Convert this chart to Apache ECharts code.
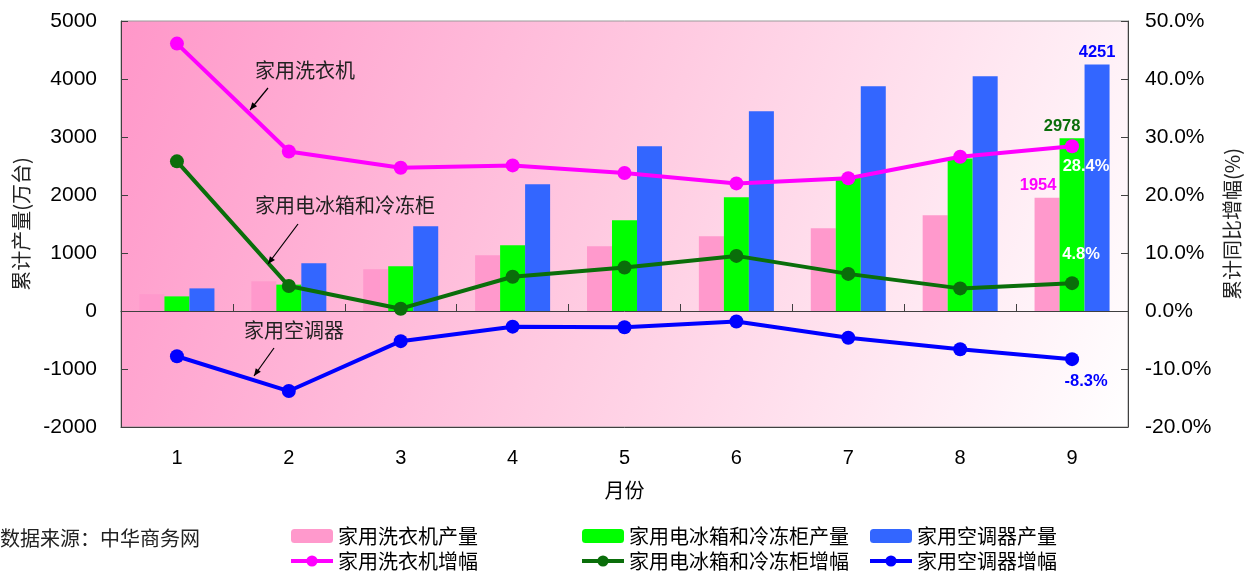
<!DOCTYPE html>
<html>
<head>
<meta charset="utf-8">
<script src="https://cdn.jsdelivr.net/npm/echarts@6/dist/echarts.min.js"></script>
<style>html,body{margin:0;padding:0;background:#fff}#c{width:1244px;height:571px}</style>
</head>
<body>
<div id="c"></div>
<script>
var months = ['1','2','3','4','5','6','7','8','9'];
var washerOutput = [290, 512, 719, 960, 1115, 1288, 1426, 1650, 1954];
var fridgeOutput = [252, 455, 770, 1132, 1564, 1960, 2300, 2628, 2978];
var acOutput = [390, 822, 1460, 2184, 2840, 3443, 3874, 4046, 4251];
var washerGrowth = [46.1, 27.5, 24.7, 25.1, 23.8, 22.0, 22.9, 26.6, 28.4];
var fridgeGrowth = [25.8, 4.3, 0.4, 5.9, 7.5, 9.5, 6.4, 3.9, 4.8];
var acGrowth = [-7.8, -13.8, -5.2, -2.7, -2.8, -1.8, -4.6, -6.6, -8.3];

var FONT = "'Liberation Sans', 'Noto Sans CJK SC', sans-serif";
var CJK = "'Noto Sans CJK SC', sans-serif";

function lastLabel(arr, label) {
  return arr.map(function (v, i) {
    return i === arr.length - 1 ? { value: v, label: label } : v;
  });
}
function lbl(color, pos, offset, fmt) {
  return { show: true, position: pos, offset: offset || [0, 0], color: color,
    fontWeight: 'bold', fontSize: 16.5, fontFamily: FONT, distance: 4,
    formatter: fmt || '{c}' };
}
function arrow(x1, y1, x2, y2) {
  var a = Math.atan2(y2 - y1, x2 - x1), L = 8, w = 0.4;
  return [
    { type: 'line', z: 100, shape: { x1: x1, y1: y1, x2: x2, y2: y2 }, style: { stroke: '#000', lineWidth: 1.2 } },
    { type: 'polygon', z: 100, shape: { points: [[x2, y2],
      [x2 - L * Math.cos(a - w), y2 - L * Math.sin(a - w)],
      [x2 - L * Math.cos(a + w), y2 - L * Math.sin(a + w)]] }, style: { fill: '#000' } }
  ];
}
function note(text, x, y) {
  return { type: 'text', z: 100, left: x, top: y, style: { text: text, fontSize: 20, fontFamily: CJK, fill: '#222' } };
}

var chart = echarts.init(document.getElementById('c'));
var pctFmt = function (p) { return p.value.toFixed(1) + '%'; };

var legendCommon = {
  orient: 'vertical', top: 526, itemWidth: 42, itemHeight: 14, itemGap: 5, padding: 0,
  lineStyle: { width: 4 },
  textStyle: { fontSize: 20, fontFamily: CJK, color: '#000', padding: [0, 0, 0, 0] }
};

chart.setOption({
  animation: false,
  grid: { left: 121, right: 116, top: 21, bottom: 144, outerBoundsMode: 'none', containLabel: false,
    show: true, borderColor: '#9a9a9a', borderWidth: 1,
    backgroundColor: new echarts.graphic.LinearGradient(0, 0, 1, 1, [
      { offset: 0, color: '#ff97c9' }, { offset: 0.5, color: '#ffcce2' }, { offset: 1, color: '#ffffff' }]) },
  legend: [
    Object.assign({ left: 289, data: ['家用洗衣机产量', '家用洗衣机增幅'] }, legendCommon),
    Object.assign({ left: 580, data: ['家用电冰箱和冷冻柜产量', '家用电冰箱和冷冻柜增幅'] }, legendCommon),
    Object.assign({ left: 868, data: ['家用空调器产量', '家用空调器增幅'] }, legendCommon)
  ],
  xAxis: [
    { type: 'category', data: months, position: 'bottom',
      axisLine: { onZero: false, lineStyle: { color: '#404040' } },
      axisTick: { show: false },
      axisLabel: { fontSize: 20, fontFamily: FONT, color: '#000', margin: 21 },
      name: '月份', nameLocation: 'middle', nameGap: 53,
      nameTextStyle: { fontSize: 20, fontFamily: CJK, color: '#000' } },
    { type: 'category', data: months, position: 'bottom',
      axisLine: { onZero: true, onZeroAxisIndex: 0, lineStyle: { color: '#404040' } },
      axisTick: { show: true, inside: true, length: 7, lineStyle: { color: '#404040' } },
      axisLabel: { show: false } }
  ],
  yAxis: [
    { type: 'value', min: -2000, max: 5000, interval: 1000, position: 'left',
      axisLine: { show: true, lineStyle: { color: '#404040' } },
      axisTick: { show: true, inside: true, length: 7, lineStyle: { color: '#404040' } },
      splitLine: { show: false },
      axisLabel: { fontSize: 21, fontFamily: FONT, color: '#000', margin: 24,
        formatter: function (v) { return String(v); } },
      name: '累计产量(万台)', nameLocation: 'middle', nameGap: 90,
      nameTextStyle: { fontSize: 20, fontFamily: CJK, color: '#222' } },
    { type: 'value', min: -20, max: 50, interval: 10, position: 'right',
      axisLine: { show: true, lineStyle: { color: '#404040' } },
      axisTick: { show: true, inside: true, length: 7, lineStyle: { color: '#404040' } },
      splitLine: { show: false },
      axisLabel: { fontSize: 21, fontFamily: FONT, color: '#000', margin: 17,
        formatter: function (v) { return v.toFixed(1) + '%'; } },
      name: '累计同比增幅(%)', nameLocation: 'middle', nameGap: 92,
      nameTextStyle: { fontSize: 20, fontFamily: CJK, color: '#222' } }
  ],
  series: [
    { name: '家用洗衣机产量', type: 'bar', barWidth: 25, barGap: '0%', itemStyle: { color: '#ff99cc' },
      data: lastLabel(washerOutput, lbl('#ff00ff', 'top', [-9, 0])) },
    { name: '家用电冰箱和冷冻柜产量', type: 'bar', barWidth: 25, barGap: '0%', itemStyle: { color: '#00ff00' },
      data: lastLabel(fridgeOutput, lbl('#0a6e0a', 'top', [-10, 0])) },
    { name: '家用空调器产量', type: 'bar', barWidth: 25, barGap: '0%', itemStyle: { color: '#3366ff' },
      data: lastLabel(acOutput, lbl('#0000ff', 'top', [0, 0])) },
    { name: '家用洗衣机增幅', type: 'line', yAxisIndex: 1, z: 5, symbol: 'circle', symbolSize: 14,
      itemStyle: { color: '#ff00ff' }, lineStyle: { color: '#ff00ff', width: 4 },
      data: lastLabel(washerGrowth, lbl('#ffffff', 'bottom', [14, 1], pctFmt)) },
    { name: '家用电冰箱和冷冻柜增幅', type: 'line', yAxisIndex: 1, z: 5, symbol: 'circle', symbolSize: 14,
      itemStyle: { color: '#0a6e0a' }, lineStyle: { color: '#0a6e0a', width: 4 },
      data: lastLabel(fridgeGrowth, lbl('#ffffff', 'top', [9, -9], pctFmt)) },
    { name: '家用空调器增幅', type: 'line', yAxisIndex: 1, z: 5, symbol: 'circle', symbolSize: 14,
      itemStyle: { color: '#0000ff' }, lineStyle: { color: '#0000ff', width: 4 },
      data: lastLabel(acGrowth, lbl('#0000ff', 'bottom', [14, 3], pctFmt)) }
  ],
  graphic: [
    note('家用洗衣机', 255, 60),
    note('家用电冰箱和冷冻柜', 255, 195),
    note('家用空调器', 244, 320),
    { type: 'text', left: 0, top: 528, style: { text: '数据来源：中华商务网', fontSize: 20, fontFamily: CJK, fill: '#222' } }
  ].concat(arrow(268, 88, 250, 110), arrow(298, 224, 268, 264), arrow(274, 348, 254, 376))
});
</script>
</body>
</html>
